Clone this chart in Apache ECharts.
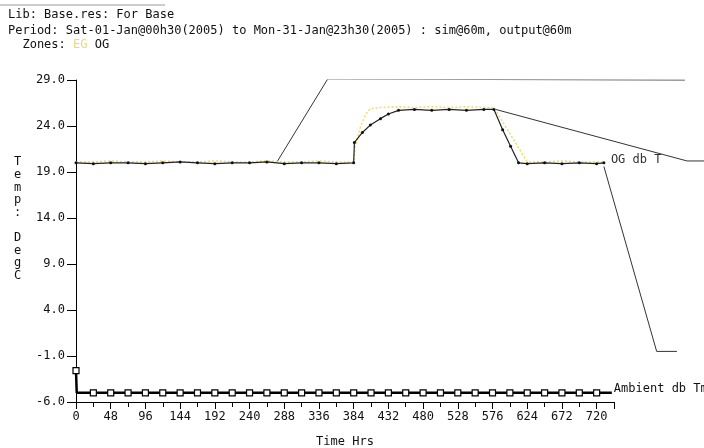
<!DOCTYPE html>
<html>
<head>
<meta charset="utf-8">
<script src="https://cdn.jsdelivr.net/npm/echarts@6/dist/echarts.min.js"></script>
<style>
  html, body { margin: 0; padding: 0; background: #fff; }
  #chart { width: 704px; height: 448px; }
</style>
</head>
<body>
<div id="chart"></div>
<script>
// zone OG db temperature
const ogHours = [0, 24, 48, 72, 96, 120, 144, 168, 192, 216, 240, 264, 288, 312, 336, 360, 384,
  385, 396, 407, 421, 432, 446, 468, 492, 516, 540, 564, 578, 590, 601, 612, 624, 648, 672, 696, 720, 730];
const ogTemps = [20.0, 19.9, 20.0, 20.0, 19.9, 20.0, 20.1, 20.0, 19.9, 20.0, 20.0, 20.1, 19.9, 20.0, 20.0, 19.9, 20.0,
  22.2, 23.3, 24.1, 24.8, 25.3, 25.7, 25.8, 25.7, 25.8, 25.7, 25.8, 25.8, 23.6, 21.8, 20.0, 19.9, 20.0, 19.9, 20.0, 19.9, 20.0];

// zone EG db temperature
const egHours = [0, 24, 48, 72, 96, 120, 144, 168, 192, 216, 240, 264, 288, 312, 336, 360, 384,
  386, 393, 400, 407, 420, 444, 468, 492, 516, 540, 564, 578, 624, 648, 672, 696, 720, 730];
const egTemps = [20.1, 20.1, 20.2, 20.1, 20.1, 20.2, 20.1, 20.1, 20.2, 20.1, 20.1, 20.2, 20.1, 20.1, 20.2, 20.1, 20.1,
  21.8, 23.8, 25.2, 25.9, 26.0, 26.1, 26.0, 26.1, 26.0, 26.1, 26.0, 26.0, 20.1, 20.1, 20.2, 20.1, 20.1, 20.1];

// ambient db temperature
const ambHours = [0, 1, 24, 48, 72, 96, 120, 144, 168, 192, 216, 240, 264, 288, 312, 336, 360, 384,
  408, 432, 456, 480, 504, 528, 552, 576, 600, 624, 648, 672, 696, 720, 741];
const ambTemps = [-2.6, -5.0, -5.0, -5.0, -5.0, -5.0, -5.0, -5.0, -5.0, -5.0, -5.0, -5.0, -5.0, -5.0, -5.0, -5.0, -5.0, -5.0,
  -5.0, -5.0, -5.0, -5.0, -5.0, -5.0, -5.0, -5.0, -5.0, -5.0, -5.0, -5.0, -5.0, -5.0, -5.0];

// stray thin lines that run past the end of the time axis
const strayA = [[278, 20.1], [348, 29.1], [842, 29.0]];
const strayB = [[578, 25.85], [845, 20.2], [870, 20.2]];
const strayC = [[730, 19.6], [803, -0.5], [831, -0.5]];

const xTicks = { min: 0, max: 744, step: 48 };
const yTicks = { min: -6, max: 29, step: 5 };
const wideMax = 900; // hours for the overflow grid

const mono = 'DejaVu Sans Mono';
const pairs = (xs, ys) => xs.map((x, i) => [x, ys[i]]);

const plotLeft = 76, plotRight = 90, plotTop = 80, plotBottom = 46;
const plotWidth = 704 - plotLeft - plotRight;
const wideWidth = plotWidth * wideMax / xTicks.max;

const chart = echarts.init(document.getElementById('chart'));

function strayLine(data) {
  return {
    type: 'line',
    xAxisIndex: 1,
    yAxisIndex: 1,
    data: data,
    showSymbol: false,
    silent: true,
    lineStyle: { color: '#333', width: 1 },
    z: 1
  };
}

const option = {
  animation: false,
  backgroundColor: '#fff',
  grid: [
    { left: plotLeft, right: plotRight, top: plotTop, bottom: plotBottom, outerBoundsMode: 'none' },
    { left: plotLeft, width: wideWidth, top: plotTop, bottom: plotBottom, outerBoundsMode: 'none' }
  ],
  graphic: [
    { type: 'line', shape: { x1: 0, y1: 5, x2: 165, y2: 5 }, style: { stroke: '#999', lineWidth: 1 } },
    { type: 'text', left: 8, top: 9, style: { text: 'Lib: Base.res: For Base', font: '12px ' + mono, fill: '#111' } },
    { type: 'text', left: 8, top: 25, style: { text: 'Period: Sat-01-Jan@00h30(2005) to Mon-31-Jan@23h30(2005) : sim@60m, output@60m', font: '12px ' + mono, fill: '#111' } },
    {
      type: 'text', left: 8, top: 39,
      style: {
        text: '{a|  Zones: }{eg|EG}{a| OG}',
        font: '12px ' + mono,
        rich: {
          a: { fontFamily: mono, fontSize: 12, fill: '#111', color: '#111' },
          eg: { fontFamily: mono, fontSize: 12, fill: '#eedc60', color: '#eedc60' }
        }
      }
    },
    {
      type: 'text', left: 14, top: 156,
      style: { text: 'T\ne\nm\np\n:\n\nD\ne\ng\nC', font: '12px ' + mono, fill: '#111', lineHeight: 12.6, align: 'center' }
    }
  ],
  xAxis: [
    {
      type: 'value',
      gridIndex: 0,
      min: xTicks.min,
      max: xTicks.max,
      interval: xTicks.step,
      name: 'Time Hrs',
      nameLocation: 'middle',
      nameGap: 34,
      nameTextStyle: { fontFamily: mono, fontSize: 12, color: '#111' },
      axisLine: { onZero: false, lineStyle: { color: '#000', width: 1 } },
      axisTick: { length: 7, lineStyle: { color: '#000' } },
      minorTick: { show: true, splitNumber: 2, length: 5, lineStyle: { color: '#000' } },
      splitLine: { show: false },
      axisLabel: {
        margin: 9,
        fontFamily: mono,
        fontSize: 12,
        color: '#111',
        formatter: v => (v > 720 ? '' : String(v))
      }
    },
    { type: 'value', gridIndex: 1, min: 0, max: wideMax, show: false, splitLine: { show: false } }
  ],
  yAxis: [
    {
      type: 'value',
      gridIndex: 0,
      min: yTicks.min,
      max: yTicks.max,
      interval: yTicks.step,
      axisLine: { show: true, onZero: false, lineStyle: { color: '#000', width: 1 } },
      axisTick: { show: true, length: 9, lineStyle: { color: '#000' } },
      splitLine: { show: false },
      axisLabel: {
        margin: 11,
        fontFamily: mono,
        fontSize: 12,
        color: '#111',
        formatter: v => v.toFixed(1)
      }
    },
    { type: 'value', gridIndex: 1, min: yTicks.min, max: yTicks.max, show: false, splitLine: { show: false } }
  ],
  series: [
    strayLine(strayA),
    strayLine(strayB),
    strayLine(strayC),
    {
      name: 'EG',
      type: 'line',
      data: pairs(egHours, egTemps),
      showSymbol: false,
      lineStyle: { color: '#eedc60', width: 1.5, type: [2, 2] },
      z: 3
    },
    {
      name: 'OG db T',
      type: 'line',
      data: pairs(ogHours, ogTemps),
      symbol: 'circle',
      symbolSize: 3,
      itemStyle: { color: '#111' },
      lineStyle: { color: '#222', width: 1.2 },
      endLabel: {
        show: true,
        formatter: 'OG db T',
        distance: 7,
        offset: [0, -3],
        fontFamily: mono,
        fontSize: 12,
        color: '#333'
      },
      z: 4
    },
    {
      name: 'Ambient db Tmp',
      type: 'line',
      data: pairs(ambHours, ambTemps),
      symbol: 'rect',
      symbolSize: (val) => (val[0] % 24 === 0 ? 6 : 0),
      itemStyle: { color: '#fff', borderColor: '#000', borderWidth: 1.2 },
      lineStyle: { color: '#000', width: 2.5 },
      endLabel: {
        show: true,
        formatter: 'Ambient db Tmp',
        distance: 2,
        offset: [0, -4],
        fontFamily: mono,
        fontSize: 12,
        color: '#111'
      },
      clip: false,
      z: 5
    }
  ]
};

chart.setOption(option);
</script>
</body>
</html>
